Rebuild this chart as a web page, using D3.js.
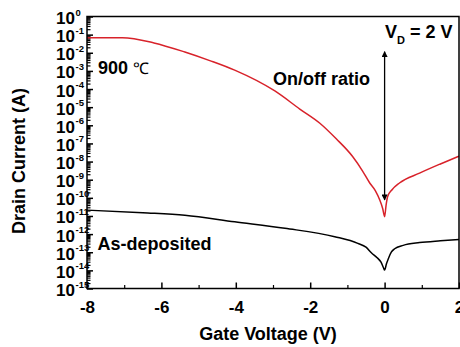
<!DOCTYPE html>
<html>
<head>
<meta charset="utf-8">
<script src="https://cdn.jsdelivr.net/npm/d3@7"></script>
<style>
body{margin:0;background:#fff;}
svg{font-family:"Liberation Sans",Arial,sans-serif;}
</style>
</head>
<body>
<svg id="box" width="460" height="347"></svg>
<script>
// data (gate voltage in V, drain current in A)
let vgRed=[-8,-7.05,-6.2,-5.37,-4.7,-4.03,-2.95,-2.28,-1.74,-1.3,-0.86,-0.6,-0.4,-0.25,-0.13,-0.05,0,0.04,0.08,0.2,0.4,0.94,1.5,2];
let idRed=[6.8e-2,6.8e-2,3.5e-2,1.1e-2,3.7e-3,1.1e-3,7.8e-5,7.9e-6,1.3e-6,1.8e-7,1.9e-8,3.2e-9,6.6e-10,2.5e-10,7.6e-11,2.5e-11,9.1e-12,4.0e-11,1.15e-10,2.8e-10,6.6e-10,2.3e-9,7.4e-9,2.0e-8];
let vgBlack=[-8,-6.5,-5.37,-4.03,-2.68,-1.34,-0.72,-0.5,-0.35,-0.2,-0.1,-0.03,0,0.05,0.1,0.18,0.27,0.5,0.94,1.5,2];
let idBlack=[2.1e-11,1.5e-11,1.1e-11,4.8e-12,2.1e-12,7.2e-13,3.1e-13,1.9e-13,9.1e-14,5.0e-14,2.9e-14,1.4e-14,1.05e-14,2.3e-14,4.4e-14,1.0e-13,1.55e-13,2.4e-13,3.4e-13,4.3e-13,5.1e-13];
let xTicks=[-8,-6,-4,-2,0,2];
let xMinor=[-7,-5,-3,-1,1];
let yExp=[0,-1,-2,-3,-4,-5,-6,-7,-8,-9,-10,-11,-12,-13,-14,-15];
let arrowV=0, arrowTop=1.15e-2, arrowBot=7.6e-11;

let box=d3.select("#box");
let padL=87,padR=459,padT=16.5,padB=288.5;
let xScale=d3.scaleLinear().domain([-8,2]).range([padL,padR]);
let yScale=d3.scaleLog().domain([1e-15,1]).range([padB,padT]);

let minorY=[];
yExp.forEach(e=>{ if(e>-15) for(let k=2;k<10;k++) minorY.push(k*Math.pow(10,e-1)); });

// axes (ticks point inward)
box.append("g").attr("transform","translate(0,"+padB+")")
  .call(d3.axisBottom(xScale).tickValues(xMinor).tickSize(-3.5).tickFormat(""))
  .call(g=>g.select(".domain").remove()).selectAll("line").attr("stroke-width",1.2);
box.append("g").attr("transform","translate(0,"+padB+")")
  .call(d3.axisBottom(xScale).tickValues(xTicks).tickSize(-6).tickPadding(12).tickFormat(d=>d))
  .call(g=>g.select(".domain").remove())
  .call(g=>g.selectAll("line").attr("stroke-width",1.5))
  .selectAll("text").attr("font-size","17px").attr("font-weight","bold").attr("fill","#000");

box.append("g").attr("transform","translate("+padL+",0)")
  .call(d3.axisLeft(yScale).tickValues(minorY).tickSize(-3.5).tickFormat(""))
  .call(g=>g.select(".domain").remove()).selectAll("line").attr("stroke-width",1.2);
let yg=box.append("g").attr("transform","translate("+padL+",0)")
  .call(d3.axisLeft(yScale).tickValues(yExp.map(e=>Math.pow(10,e))).tickSize(-6).tickFormat(""))
  .call(g=>g.select(".domain").remove());
yg.selectAll("line").attr("stroke-width",1.5);
yg.selectAll(".tick text").remove();
yg.selectAll(".tick").each(function(d){
  let e=Math.round(Math.log10(d));
  let tk=d3.select(this);
  tk.append("text").attr("x",-12).attr("y",7).attr("text-anchor","end").attr("font-size","17px")
    .attr("font-weight","bold").attr("fill","#000").text("10");
  tk.append("text").attr("x",-11.5).attr("y",-1.5).attr("text-anchor","start").attr("font-size","9.5px")
    .attr("font-weight","bold").attr("fill","#000").text(e);
});

// curves
let line=d3.line().x(d=>xScale(d[0])).y(d=>yScale(d[1])).curve(d3.curveMonotoneX);
box.append("path").datum(vgRed.map((v,i)=>[v,idRed[i]])).attr("d",line)
  .attr("fill","none").attr("stroke","#d8222a").attr("stroke-width",1.5);
box.append("path").datum(vgBlack.map((v,i)=>[v,idBlack[i]])).attr("d",line)
  .attr("fill","none").attr("stroke","#000").attr("stroke-width",1.5);

// double arrow
let defs=box.append("defs");
defs.append("marker").attr("id","ah").attr("viewBox","0 0 10 10").attr("refX",9).attr("refY",5)
  .attr("markerWidth",10).attr("markerHeight",6).attr("orient","auto-start-reverse").attr("markerUnits","userSpaceOnUse")
  .append("path").attr("d","M0,0L10,5L0,10z").attr("fill","#000");
box.append("line").attr("x1",xScale(arrowV)).attr("x2",xScale(arrowV))
  .attr("y1",yScale(arrowTop)).attr("y2",yScale(arrowBot))
  .attr("stroke","#000").attr("stroke-width",1.3)
  .attr("marker-start","url(#ah)").attr("marker-end","url(#ah)");

// frame
box.append("rect").attr("x",padL).attr("y",padT).attr("width",padR-padL).attr("height",padB-padT)
  .attr("fill","none").attr("stroke","#000").attr("stroke-width",1.5);

// annotations
let t900=box.append("text").attr("x",98).attr("y",74).attr("font-size","18px").attr("font-weight","bold");
t900.append("tspan").text("900 ");
t900.append("tspan").attr("font-weight","normal").attr("font-size","16px").text("℃");
box.append("text").attr("x",273).attr("y",85).attr("font-size","18px").attr("font-weight","bold").text("On/off ratio");
box.append("text").attr("x",97.5).attr("y",250).attr("font-size","18px").attr("font-weight","bold").text("As-deposited");
let vd=box.append("text").attr("x",385).attr("y",38).attr("font-size","18px").attr("font-weight","bold");
vd.append("tspan").text("V");
vd.append("tspan").attr("font-size","11px").attr("dy",6).text("D");
vd.append("tspan").attr("dy",-6).text(" = 2 V");

// axis titles
box.append("text").attr("x",(padL+padR)/2-5).attr("y",340).attr("text-anchor","middle")
  .attr("font-size","18px").attr("font-weight","bold").text("Gate Voltage (V)");
box.append("text").attr("transform","translate(25,161) rotate(-90)").attr("text-anchor","middle")
  .attr("font-size","18px").attr("font-weight","bold").text("Drain Current (A)");
</script>
</body>
</html>
